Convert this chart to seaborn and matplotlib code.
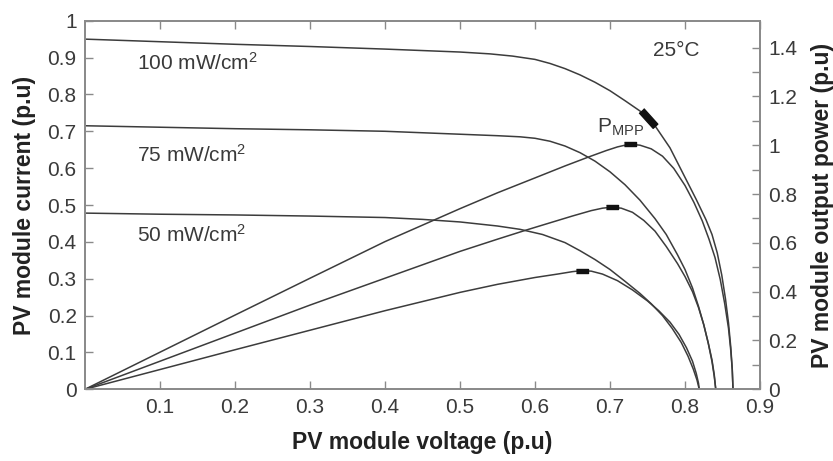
import numpy as np
import pandas as pd
import matplotlib
matplotlib.use("Agg")
import matplotlib.pyplot as plt
import seaborn as sns
from matplotlib.markers import MarkerStyle
from matplotlib.transforms import Affine2D

# ---------------- data ----------------
iv100_v = [0, 0.1, 0.2, 0.3, 0.4, 0.45, 0.5, 0.54, 0.57, 0.6, 0.62, 0.64, 0.66, 0.68, 0.70,
           0.72, 0.74, 0.76, 0.78, 0.80, 0.815, 0.828, 0.836, 0.843, 0.849, 0.854, 0.858,
           0.861, 0.863, 0.864]
iv100_i = [0.950, 0.943, 0.936, 0.930, 0.923, 0.919, 0.915, 0.910, 0.904, 0.895, 0.884,
           0.870, 0.853, 0.833, 0.810, 0.783, 0.755, 0.715, 0.655, 0.575, 0.515, 0.460,
           0.420, 0.370, 0.310, 0.245, 0.180, 0.115, 0.055, 0.0]

p100_v = [0, 0.1, 0.2, 0.3, 0.4, 0.5, 0.55, 0.6, 0.64, 0.67, 0.695, 0.71, 0.72, 0.727, 0.74,
          0.755, 0.77, 0.785, 0.80, 0.812, 0.823, 0.832, 0.84, 0.847, 0.853, 0.858, 0.861,
          0.863, 0.864]
p100_p = [0, 0.152, 0.304, 0.455, 0.605, 0.740, 0.805, 0.866, 0.915, 0.950, 0.978, 0.993,
          1.000, 1.004, 1.000, 0.985, 0.955, 0.905, 0.835, 0.765, 0.690, 0.615, 0.540,
          0.450, 0.350, 0.250, 0.160, 0.080, 0.0]

iv75_v = [0, 0.1, 0.2, 0.3, 0.4, 0.5, 0.55, 0.58, 0.6, 0.62, 0.64, 0.66, 0.68, 0.70, 0.72,
          0.74, 0.76, 0.775, 0.79, 0.80, 0.81, 0.818, 0.825, 0.831, 0.836, 0.839, 0.841]
iv75_i = [0.715, 0.711, 0.707, 0.704, 0.700, 0.692, 0.688, 0.685, 0.681, 0.673, 0.660,
          0.642, 0.619, 0.590, 0.555, 0.513, 0.463, 0.420, 0.365, 0.325, 0.275, 0.225,
          0.175, 0.125, 0.075, 0.035, 0.0]

p75_v = [0, 0.1, 0.2, 0.3, 0.4, 0.5, 0.55, 0.589, 0.62, 0.65, 0.675, 0.69, 0.702, 0.715,
         0.73, 0.745, 0.76, 0.775, 0.79, 0.80, 0.81, 0.818, 0.825, 0.831, 0.836, 0.839, 0.841]
p75_p = [0, 0.115, 0.230, 0.345, 0.455, 0.565, 0.615, 0.653, 0.682, 0.710, 0.732, 0.742,
         0.746, 0.742, 0.725, 0.692, 0.648, 0.585, 0.515, 0.462, 0.400, 0.335, 0.265,
         0.190, 0.120, 0.060, 0.0]

iv50_v = [0, 0.1, 0.2, 0.3, 0.4, 0.45, 0.5, 0.55, 0.58, 0.61, 0.64, 0.66, 0.68, 0.70, 0.72,
          0.74, 0.755, 0.77, 0.783, 0.795, 0.804, 0.811, 0.816, 0.819]
iv50_i = [0.478, 0.475, 0.473, 0.470, 0.466, 0.461, 0.454, 0.443, 0.434, 0.420, 0.398,
          0.376, 0.352, 0.325, 0.293, 0.260, 0.232, 0.200, 0.165, 0.127, 0.090, 0.055,
          0.025, 0.0]

p50_v = [0, 0.1, 0.2, 0.3, 0.4, 0.5, 0.55, 0.6, 0.63, 0.65, 0.662, 0.675, 0.69, 0.71, 0.73,
         0.75, 0.765, 0.78, 0.792, 0.802, 0.81, 0.815, 0.818, 0.819]
p50_p = [0, 0.081, 0.162, 0.242, 0.322, 0.397, 0.430, 0.458, 0.472, 0.482, 0.486, 0.484,
         0.472, 0.445, 0.407, 0.362, 0.322, 0.275, 0.225, 0.170, 0.115, 0.065, 0.025, 0.0]

# maximum power point marks
mpp_iv_v = [0.750]
mpp_iv_i = [0.737]
mpp_p_v = [0.727, 0.702, 0.662]
mpp_p_p = [1.004, 0.746, 0.486]

irr_labels = ["100 mW/cm$\\mathregular{^2}$", "75 mW/cm$\\mathregular{^2}$", "50 mW/cm$\\mathregular{^2}$"]
irr_label_y = [0.886, 0.636, 0.420]

x_ticks = [0.1, 0.2, 0.3, 0.4, 0.5, 0.6, 0.7, 0.8, 0.9]
y_ticks = [0, 0.1, 0.2, 0.3, 0.4, 0.5, 0.6, 0.7, 0.8, 0.9, 1.0]
y2_ticks = [0, 0.1, 0.2, 0.3, 0.4, 0.5, 0.6, 0.7, 0.8, 0.9, 1.0, 1.1, 1.2, 1.3, 1.4]

# ---------------- style ----------------
sns.set_theme(style="white")
plt.rcParams["font.family"] = ["Liberation Sans", "DejaVu Sans"]
plt.rcParams["mathtext.fontset"] = "custom"
plt.rcParams["mathtext.rm"] = "Liberation Sans"
plt.rcParams["mathtext.it"] = "Liberation Sans:italic"
plt.rcParams["mathtext.bf"] = "Liberation Sans:bold"

LINE = "#3c3c3c"
SPINE = "#8a8a8a"
TXT = "#3a3a3a"

fig = plt.figure(figsize=(8.33, 4.61), dpi=100)
ax = fig.add_axes([85 / 833, 1 - 389.3 / 461, 675 / 833, 368.6 / 461])
ax2 = ax.twinx()

def draw(axis, xs, ys):
    df = pd.DataFrame({"v": xs, "y": ys})
    sns.lineplot(data=df, x="v", y="y", ax=axis, color=LINE, linewidth=1.1,
                 sort=False, estimator=None)

draw(ax, iv100_v, iv100_i)
draw(ax, iv75_v, iv75_i)
draw(ax, iv50_v, iv50_i)
draw(ax2, p100_v, p100_p)
draw(ax2, p75_v, p75_p)
draw(ax2, p50_v, p50_p)

rect = [(-1, -0.3), (1, -0.3), (1, 0.3), (-1, 0.3)]
m_rot = MarkerStyle(rect, transform=Affine2D().rotate_deg(-48))
m_flat = MarkerStyle(rect)
ax.plot(mpp_iv_v, mpp_iv_i, linestyle="none", marker=m_rot, markersize=15,
        color="#111111", zorder=5)
ax2.plot(mpp_p_v, mpp_p_p, linestyle="none", marker=m_flat, markersize=9,
         color="#111111", zorder=5)

# axes limits & ticks
ax.set_xlim(0, 0.9)
ax.set_ylim(0, 1.0)
ax2.set_ylim(0, 1.51)

ax.set_xticks(x_ticks)
ax.set_xticklabels([f"{t:g}" for t in x_ticks])
ax.set_yticks(y_ticks)
ax.set_yticklabels([f"{t:g}" for t in y_ticks])
ax2.set_yticks(y2_ticks)
ax2.set_yticklabels([f"{t:g}" if round(t * 10) % 2 == 0 else "" for t in y2_ticks])

for a in (ax, ax2):
    a.tick_params(direction="in", length=6, width=1.0, color=SPINE,
                  labelsize=15, labelcolor=TXT, pad=6)
    for s in a.spines.values():
        s.set_color(SPINE)
        s.set_linewidth(1.3)
ax.tick_params(axis="x", top=True, bottom=True)
ax.tick_params(axis="y", left=True, right=False)
ax2.tick_params(axis="y", right=True, left=False)

ax.set_xlabel("PV module voltage (p.u)", fontsize=16.5, fontweight="bold", color="#222222", labelpad=10)
ax.set_ylabel("PV module current (p.u)", fontsize=16.5, fontweight="bold", color="#222222", labelpad=8)
ax2.set_ylabel("PV module output power (p.u)", fontsize=16.5, fontweight="bold", color="#222222",
               rotation=90, labelpad=10)

for lab, yy in zip(irr_labels, irr_label_y):
    ax.text(0.069, yy, lab, fontsize=15, color=TXT, va="center", ha="left")
ax.text(0.757, 0.918, "25°C", fontsize=15, color=TXT, va="center", ha="left")
ax.text(0.683, 0.712, "P$\\mathregular{_{MPP}}$", fontsize=15, color=TXT, va="center", ha="left")

fig.savefig("out.png", dpi=100)
